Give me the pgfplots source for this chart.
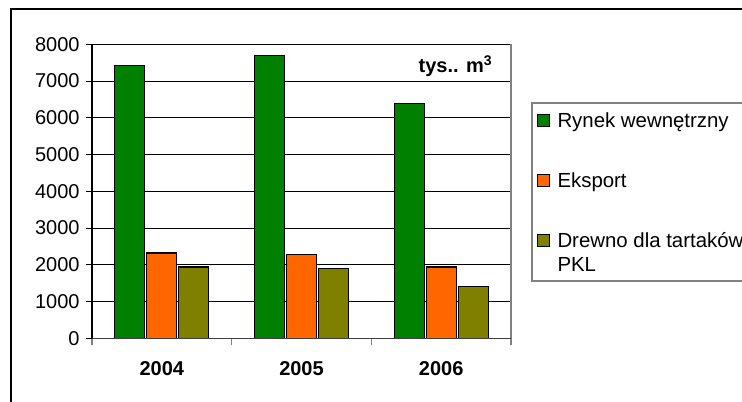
\documentclass[border=0pt]{standalone}
\usepackage{pgfplots}
\pgfplotsset{compat=1.18}
\usepackage{fontspec}
\setmainfont{Liberation Sans}
\definecolor{rwgreen}{RGB}{0,128,0}
\definecolor{eksorange}{RGB}{255,102,0}
\definecolor{drolive}{RGB}{128,128,0}

\begin{document}
\begin{tikzpicture}
\useasboundingbox (0,0) rectangle (371pt,-200.5pt);
\clip (0,0) rectangle (371pt,-200.5pt);
% chart frame (cut at the right and bottom, as in the source)
\draw[black, line width=0.6pt] (5.5pt,-400pt) -- (5.5pt,-4.5pt) -- (500pt,-4.5pt);
% legend frame
\draw[gray, line width=0.6pt] (500pt,-51.5pt) -- (266pt,-51.5pt) -- (266pt,-140.5pt) -- (500pt,-140.5pt);
\begin{axis}[
  at={(46pt,-169.15pt)}, anchor=south west,
  scale only axis, width=209.5pt, height=147pt,
  clip=false,
  ybar=1pt, bar width=15pt,
  xmin=-0.5, xmax=2.5, ymin=0, ymax=8000,
  xtick={0,1,2}, xticklabels={2004,2005,2006},
  minor xtick={-0.5,0.5,1.5,2.5},
  ytick={0,1000,...,8000},
  xtick pos=bottom, ytick pos=left,
  ymajorgrids, major grid style={black, line width=0.5pt},
  tick align=outside,
  major x tick style={draw=none},
  minor tick style={gray, line width=0.6pt},
  major tick style={black, line width=0.5pt},
  minor tick length=3.5pt, major tick length=3pt,
  axis line style={draw=none},
  xticklabel style={font=\bfseries, anchor=north, inner sep=0pt, yshift=-8.5pt},
  yticklabel style={anchor=east, inner sep=0pt, xshift=-3pt},
  /pgf/number format/assume math mode=true,
  /pgf/number format/1000 sep={},
  scaled y ticks=false,
  legend style={draw=none, fill=none, at={(axis description cs:1,1)}, anchor=north west,
    xshift=13pt, yshift=-31.1pt, inner sep=0pt, row sep=16pt,
    nodes={inner sep=2pt}, font=\fontsize{10.2}{12}\selectfont},
  legend cell align=left,
  legend image code/.code={\draw[#1, draw=black, line width=0.5pt] (0pt,-3pt) rectangle (6pt,3pt); \path (7.5pt,0pt);},
]
\addplot[fill=rwgreen, draw=black, line width=0.6pt] coordinates {(0,7420) (1,7690) (2,6390)};
\addlegendentry{\strut Rynek wewnętrzny}
\addplot[fill=eksorange, draw=black, line width=0.6pt] coordinates {(0,2320) (1,2290) (2,1940)};
\addlegendentry{\strut Eksport}
\addplot[fill=drolive, draw=black, line width=0.6pt] coordinates {(0,1940) (1,1900) (2,1420)};
\addlegendentry{\strut\smash{\begin{tabular}[t]{@{}l@{}}Drewno dla tartaków i\\PKL\end{tabular}}}
% plot area border
\draw[black, line width=0.6pt] (rel axis cs:0,0) -- (rel axis cs:0,1);
\draw[gray, line width=0.6pt] (rel axis cs:1,0) -- (rel axis cs:1,1);
\draw[black!75, line width=0.8pt] (rel axis cs:0,0) -- (rel axis cs:1,0);
\node[anchor=base east, inner sep=0pt, font=\bfseries, xshift=-9pt, yshift=-14pt] at (rel axis cs:1,1) {tys.. m\textsuperscript{3}};
\end{axis}
\end{tikzpicture}
\end{document}
